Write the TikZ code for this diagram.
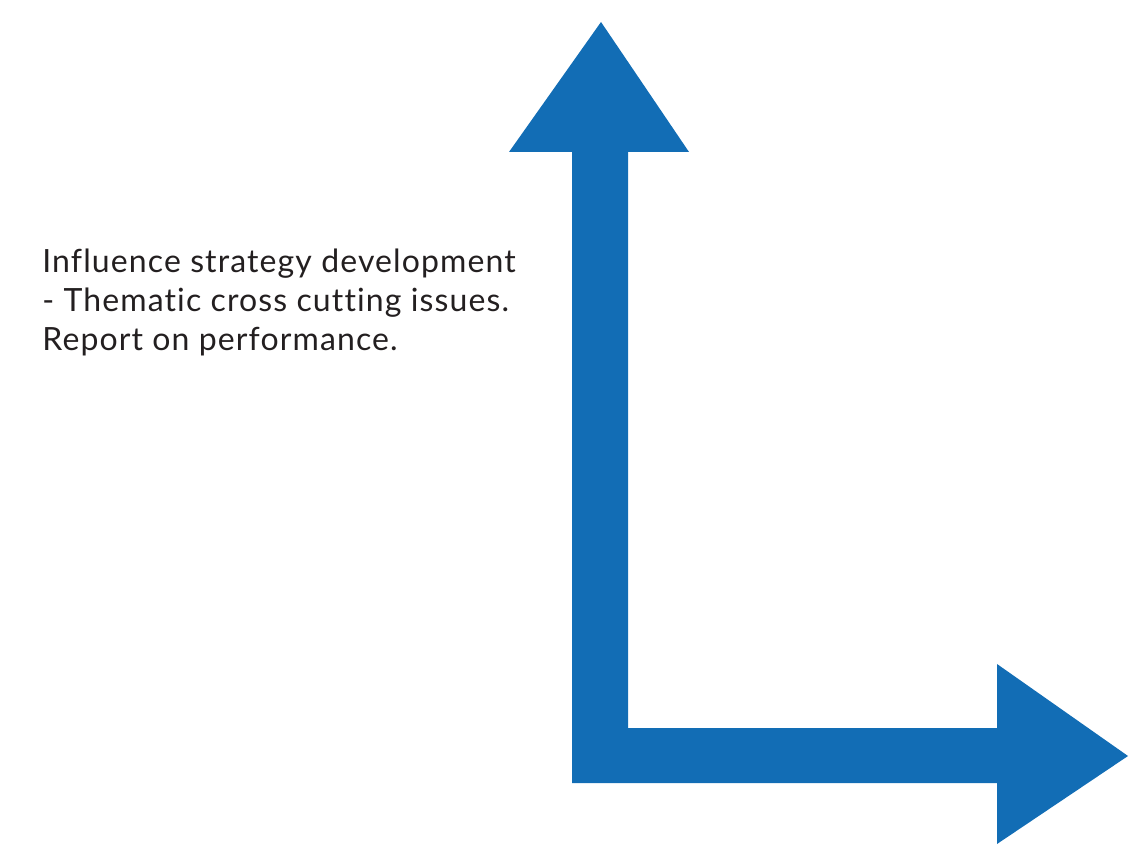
\documentclass[tikz,border=0pt]{standalone}
\usepackage{fontspec}
\setmainfont{Lato}[Ligatures=NoCommon, LetterSpace=3.5]
\usepackage{xcolor}
\usetikzlibrary{positioning}
\definecolor{arrowblue}{RGB}{18,109,181}
\definecolor{notegray}{RGB}{35,31,32}

\begin{document}
\begin{tikzpicture}[x=0.5pt, y=-0.5pt]
    \useasboundingbox (0,0) rectangle (1145,854);
    % L-shaped double arrow
    \fill[arrowblue] (601,22) -- (689,152) -- (628,152) -- (628,728) -- (997,728) -- (997,664) -- (1128,756) -- (997,844) -- (997,783) -- (572,783) -- (572,152) -- (509,152) -- cycle;
    \node[anchor=base west, align=left, inner sep=0pt, text=notegray, font=\fontsize{16}{19.5}\selectfont] (note) at (42,351) {Influence strategy development\\- Thematic cross cutting issues.\\Report on performance.};
\end{tikzpicture}
\end{document}
